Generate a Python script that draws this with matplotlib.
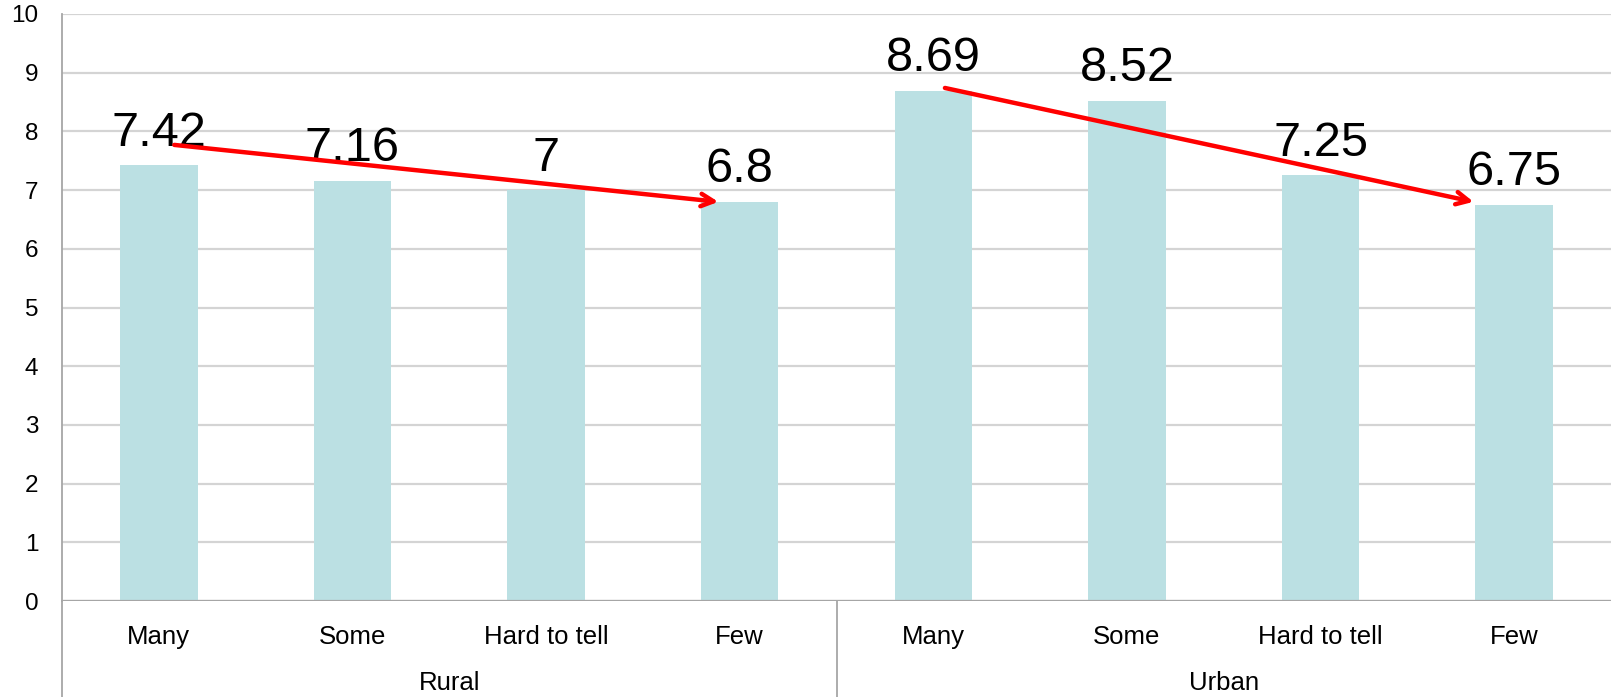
import matplotlib.pyplot as plt
import matplotlib.transforms as mtransforms
import numpy as np

plt.rcParams['font.family'] = ['Liberation Sans', 'DejaVu Sans']

groups = ["Rural", "Urban"]
categories = ["Many", "Some", "Hard to tell", "Few"]
values = [7.42, 7.16, 7, 6.8, 8.69, 8.52, 7.25, 6.75]
value_labels = ["7.42", "7.16", "7", "6.8", "8.69", "8.52", "7.25", "6.75"]
# arrows drawn over the bars: (x0, y0) -> (x1, y1) in data units
arrows = [((0.08, 7.77), (2.89, 6.80)),
          ((4.06, 8.74), (6.79, 6.80))]

fig = plt.figure(figsize=(16.11, 6.97), dpi=100)
ax = fig.add_axes([62 / 1611, 1 - 601 / 697, 1 - 62 / 1611, 587 / 697])

x = np.arange(len(values))
ax.bar(x, values, width=0.40, color="#BBE0E3", zorder=2)

for xi, v, lab in zip(x, values, value_labels):
    ax.annotate(lab, (xi, v), xytext=(0, 14), textcoords="offset points",
                ha="center", va="baseline", fontsize=35, color="black", zorder=4)

for (x0, y0), (x1, y1) in arrows:
    ax.annotate("", xy=(x1, y1), xytext=(x0, y0),
                arrowprops=dict(arrowstyle="->,head_length=0.9,head_width=0.45",
                                color="#FF0000", lw=3.2, shrinkA=0, shrinkB=0),
                zorder=5)

ax.set_xlim(-0.5, len(values) - 0.5)
ax.set_ylim(0, 10)
ax.set_yticks(range(0, 11))
ax.yaxis.grid(True, color="#D4D4D4", linewidth=1.6, zorder=0)
ax.set_axisbelow(True)
for s in ["top", "right", "bottom"]:
    ax.spines[s].set_visible(False)
ax.spines["left"].set_color("#A6A6A6")
ax.spines["left"].set_linewidth(1.3)
ax.axhline(0, color="#A6A6A6", linewidth=1.6, zorder=3)

ax.set_xticks(x)
ax.set_xticklabels(categories * len(groups), fontsize=18.5)
ax.tick_params(axis="x", length=0, pad=17)
ax.tick_params(axis="y", length=0, pad=17, labelsize=17.5)

# group labels and separators below the axis
trans = mtransforms.blended_transform_factory(ax.transData, ax.transAxes)
bottom = -(697 - 601) / 587
n = len(categories)
for gi, g in enumerate(groups):
    cx = gi * n + (n - 1) / 2
    ax.text(cx, -82 / 587, g, transform=trans, ha="center", va="center",
            fontsize=18.5)
for b in [-0.5, n - 0.5]:
    ax.plot([b, b], [0, bottom], transform=trans, color="#A6A6A6",
            linewidth=1.3, clip_on=False)

fig.savefig("out.png", dpi=100)
